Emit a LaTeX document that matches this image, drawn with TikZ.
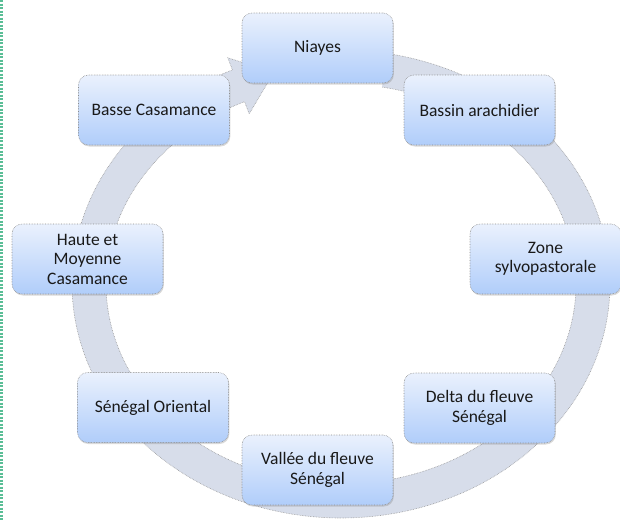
\documentclass[tikz,border=0pt]{standalone}
\usepackage{fontspec}
\setmainfont{Carlito}
\usetikzlibrary{shadows}
\definecolor{ringfill}{RGB}{215,221,234}
\definecolor{ringedge}{RGB}{150,150,150}
\definecolor{boxtop}{RGB}{234,241,253}
\definecolor{boxbot}{RGB}{176,205,250}
\definecolor{boxedge}{RGB}{140,140,140}
\definecolor{stripgreen}{RGB}{90,190,150}
\definecolor{textcol}{RGB}{25,25,25}
\begin{document}
\begin{tikzpicture}[x=1pt,y=-1pt,
  region/.style={rounded corners=10pt, minimum width=151pt, minimum height=70pt,
    inner sep=0pt, align=center, top color=boxtop, bottom color=boxbot,
    draw=boxedge, densely dotted, line width=0.6pt,
    font=\fontsize{17.5}{19.5}\selectfont, text=textcol,
    drop shadow={shadow xshift=0.8pt, shadow yshift=-1.5pt, opacity=0.3}},
  ringband/.style={ringfill, line width=34pt, line cap=butt},
  ringline/.style={ringedge, densely dotted, line width=0.6pt}
]
\useasboundingbox (0,0) rectangle (620,520);
\def\rcx{341}\def\rcy{284}\def\rra{252}\def\rrb{217}
% green strip on the left edge
\draw[stripgreen, line width=3pt, dash pattern=on 2pt off 1.5pt] (1.5,0) -- (1.5,520);
% ring
\draw[ringband] plot[domain=-247:80, samples=220] ({\rcx+\rra*cos(\x)}, {\rcy-\rrb*sin(\x)});
\draw[ringline] plot[domain=-246:80, samples=220] ({\rcx+(\rra+17)*cos(\x)}, {\rcy-(\rrb+17)*sin(\x)});
\draw[ringline] plot[domain=-246:80, samples=220] ({\rcx+(\rra-17)*cos(\x)}, {\rcy-(\rrb-17)*sin(\x)});
% arrow head
\fill[ringfill] (232.4,69.9) -- (227.8,57.8) -- (274,72.2) -- (249.2,113.8) -- (244.6,101.7) -- cycle;
\draw[ringline] (232.4,69.9) -- (227.8,57.8) -- (274,72.2) -- (249.2,113.8) -- (244.6,101.7);
% boxes
\node[region] (niayes)   at (317.5,48)  {Niayes};
\node[region] (bassin)   at (479.5,110) {Bassin arachidier};
\node[region] (zone)     at (545.5,259) {Zone\\sylvopastorale};
\node[region] (delta)    at (479.5,408) {Delta du fleuve\\Sénégal};
\node[region] (vallee)   at (317.5,470) {Vallée du fleuve\\Sénégal};
\node[region] (oriental) at (153,407.5) {Sénégal Oriental};
\node[region] (haute)    at (87.5,259)  {Haute et\\Moyenne\\Casamance};
\node[region] (basse)    at (154,110)   {Basse Casamance};
\end{tikzpicture}
\end{document}
